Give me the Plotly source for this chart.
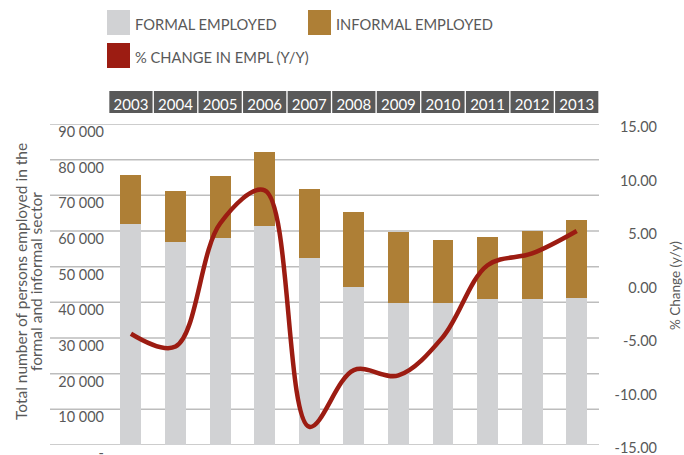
import plotly.graph_objects as go

# ---- data ----
years = ["2003", "2004", "2005", "2006", "2007", "2008", "2009", "2010", "2011", "2012", "2013"]
formal = [61900, 56900, 57900, 61400, 52400, 44400, 39800, 39800, 40800, 40800, 41200]
informal = [13900, 14300, 17400, 20700, 19300, 21000, 19800, 17600, 17400, 19200, 22000]
pct_change = [-4.6, -5.8, 5.7, 8.8, -13.3, -8.0, -8.5, -4.9, 1.8, 2.9, 5.0]

left_tickvals = [0, 10000, 20000, 30000, 40000, 50000, 60000, 70000, 80000, 90000]
left_ticktext = ["-", "10 000", "20 000", "30 000", "40 000", "50 000", "60 000", "70 000", "80 000", "90 000"]
right_tickvals = [-15, -10, -5, 0, 5, 10, 15]
right_ticktext = ["-15.00", "-10.00", "-5.00", "0.00", "5.00", "10.00", "15.00"]

series_names = ["FORMAL EMPLOYED", "INFORMAL EMPLOYED", "% CHANGE IN EMPL (Y/Y)"]
left_title = ["Total number of persons employed in the", "formal and informal sector"]
right_title = "% Change (y/y)"

# ---- styling ----
C_FORMAL = "#D1D2D4"
C_INFORMAL = "#AE7F36"
C_LINE = "#9C1C12"
C_TEXT = "#595959"
C_GRID = "#BDBDBD"
FONT = "Lato"

W, H = 684, 455
L, R, T, B = 50, 19, 124, 10
PW, PH = W - L - R, H - T - B


def px(x):
    return (x - L) / PW


def py(y):
    return (H - B - y) / PH


fig = go.Figure()
fig.add_trace(go.Bar(x=years, y=formal, name=series_names[0], marker=dict(color=C_FORMAL, line=dict(width=0))))
fig.add_trace(go.Bar(x=years, y=informal, name=series_names[1], marker=dict(color=C_INFORMAL, line=dict(width=0))))
fig.add_trace(go.Scatter(x=years, y=pct_change, name=series_names[2], yaxis="y2", mode="lines",
                         line=dict(color=C_LINE, width=4.5, shape="spline", smoothing=1.0)))

shapes = []
# horizontal gridlines at the left-axis ticks (extend under the tick labels)
for v in left_tickvals:
    shapes.append(dict(type="line", xref="paper", yref="y", x0=0, x1=px(599), y0=v, y1=v,
                       line=dict(color=C_GRID, width=1.5), layer="below"))
# year header boxes
for i, _ in enumerate(years):
    shapes.append(dict(type="rect", xref="x", yref="paper", x0=i - 0.485, x1=i + 0.485,
                       y0=py(113), y1=py(91), fillcolor="#595959", line=dict(width=0), layer="below"))

annotations = []
# custom legend
legend_items = [
    (series_names[0], C_FORMAL, 107, 10),
    (series_names[1], C_INFORMAL, 308, 10),
    (series_names[2], C_LINE, 107, 43),
]
for name, col, x0, y0 in legend_items:
    shapes.append(dict(type="rect", xref="paper", yref="paper", x0=px(x0), x1=px(x0 + 23),
                       y0=py(y0 + 25), y1=py(y0), fillcolor=col, line=dict(width=0)))
    annotations.append(dict(text=name, xref="paper", yref="paper", x=px(x0 + 26), y=py(y0 + 14),
                            xanchor="left", yanchor="middle", showarrow=False,
                            font=dict(family=FONT, size=14.7, color=C_TEXT)))

# axis titles
annotations.append(dict(text=left_title[0], xref="paper", yref="paper", x=px(21), y=py(282),
                        xanchor="center", yanchor="middle", textangle=-90, showarrow=False,
                        font=dict(family=FONT, size=15.5, color=C_TEXT)))
annotations.append(dict(text=left_title[1], xref="paper", yref="paper", x=px(36), y=py(282),
                        xanchor="center", yanchor="middle", textangle=-90, showarrow=False,
                        font=dict(family=FONT, size=15.5, color=C_TEXT)))
annotations.append(dict(text=right_title, xref="paper", yref="paper", x=px(675), y=py(286),
                        xanchor="center", yanchor="middle", textangle=-90, showarrow=False,
                        font=dict(family=FONT, size=13.5, color=C_TEXT)))

fig.update_layout(
    width=W, height=H,
    margin=dict(l=L, r=R, t=T, b=B, pad=0),
    plot_bgcolor="white", paper_bgcolor="white",
    barmode="stack", bargap=0.53,
    showlegend=False,
    font=dict(family=FONT, color=C_TEXT),
    xaxis=dict(type="category", domain=[0, px(599)], range=[-1.816, 10.5], side="top",
               showgrid=False, showline=False, ticks="", zeroline=False, automargin=False,
               tickfont=dict(family=FONT, size=15, color="white"), ticklabelstandoff=10),
    yaxis=dict(range=[0, 90000], anchor="free", position=px(106), side="left", automargin=False,
               tickvals=left_tickvals, ticktext=left_ticktext, showgrid=False,
               zeroline=False, showline=False, ticks="", ticklabelshift=8, ticklabelstandoff=2,
               ticklabeloverflow="allow",
               tickfont=dict(family=FONT, size=14.5, color=C_TEXT)),
    yaxis2=dict(range=[-15, 15], overlaying="y", anchor="free", position=px(659), side="left",
                automargin=False, ticklabeloverflow="allow",
                tickvals=right_tickvals, ticktext=right_ticktext, showgrid=False, zeroline=False,
                showline=False, ticks="", ticklabelshift=3, ticklabelstandoff=2,
                tickfont=dict(family=FONT, size=14.5, color=C_TEXT)),
    shapes=shapes,
    annotations=annotations,
)

fig.write_html("out.html", config={"displayModeBar": False},
               post_script="document.body.style.margin='0';")
